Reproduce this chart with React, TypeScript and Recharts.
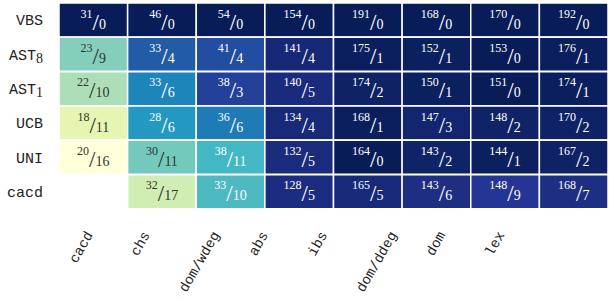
import { BarChart, Bar, XAxis, YAxis, Cell, LabelList } from 'recharts';

// rows (top to bottom) and columns (left to right); "_" marks a subscript
const rows = ['VBS', 'AST_8', 'AST_1', 'UCB', 'UNI', 'cacd'];
const cols = ['cacd', 'chs', 'dom/wdeg', 'abs', 'ibs', 'dom/ddeg', 'dom', 'lex'];

// numerator (upper number) of each cell, null = no cell
const wins: (number | null)[][] = [
    [31, 46, 54, 154, 191, 168, 170, 192],
    [23, 33, 41, 141, 175, 152, 153, 176],
    [22, 33, 38, 140, 174, 150, 151, 174],
    [18, 28, 36, 134, 168, 147, 148, 170],
    [20, 30, 38, 132, 164, 143, 144, 167],
    [null, 32, 33, 128, 165, 143, 148, 168],
];

// denominator (lower number) of each cell
const losses: (number | null)[][] = [
    [0, 0, 0, 0, 0, 0, 0, 0],
    [9, 4, 4, 4, 1, 1, 0, 1],
    [10, 6, 3, 5, 2, 1, 0, 1],
    [11, 6, 6, 4, 1, 3, 2, 2],
    [16, 11, 11, 5, 0, 2, 1, 2],
    [null, 17, 10, 5, 5, 6, 9, 7],
];

const labelTicks = [0.5, 1.5, 2.5, 3.5, 4.5, 5.5, 6.5, 7.5];

const YLGNBU = ['#ffffd9', '#edf8b1', '#c7e9b4', '#7fcdbb', '#41b6c4', '#1d91c0', '#225ea8', '#253494', '#081d58'];

const SERIF = "'Liberation Serif', 'DejaVu Serif', serif";
const MONO = "'Liberation Mono', 'DejaVu Sans Mono', monospace";

const hexToRgb = (h: string) => [1, 3, 5].map((i) => parseInt(h.slice(i, i + 2), 16));

function colormap(t: number) {
    const v = Math.max(0, Math.min(1, t)) * (YLGNBU.length - 1);
    const i = Math.min(Math.floor(v), YLGNBU.length - 2);
    const f = v - i;
    const a = hexToRgb(YLGNBU[i]);
    const b = hexToRgb(YLGNBU[i + 1]);
    const c = a.map((x, k) => Math.round(x + (b[k] - x) * f));
    return `rgb(${c[0]},${c[1]},${c[2]})`;
}

const ratio = (r: number, c: number) => {
    const w = wins[r][c];
    const l = losses[r][c];
    if (w == null || l == null) return null;
    return w / (w + l);
};

const allRatios = rows.flatMap((_, r) => cols.map((_, c) => ratio(r, c))).filter((v) => v != null) as number[];
const vmin = Math.min(...allRatios);
const vmax = Math.max(...allRatios);
const norm = (v: number) => (v - vmin) / (vmax - vmin);

const data = rows.map((row) => {
    const d: any = { row };
    cols.forEach((_, c) => {
        d['c' + c] = 1;
    });
    return d;
});

const RowTick = ({ x, y, payload }: any) => {
    const [main, sub] = String(payload.value).split('_');
    return (
        <text x={x - 8} y={y} dy={5} textAnchor="end" style={{ fontFamily: MONO, fontSize: 15 }} fill="#222">
            {main}
            {sub && (
                <tspan style={{ fontFamily: SERIF, fontSize: 14 }} dy={3}>
                    {sub}
                </tspan>
            )}
        </text>
    );
};

const ColTick = ({ x, y, payload }: any) => {
    const name = cols[Math.floor(payload.value)];
    const fs = 14;
    const len = name.length * 0.6 * fs;
    const h = fs * 0.8;
    const cy = y - 17 + (len * Math.sin(Math.PI / 3) + h * Math.cos(Math.PI / 3)) / 2;
    return (
        <text
            x={x}
            y={cy}
            transform={`rotate(-60, ${x}, ${cy})`}
            textAnchor="middle"
            dominantBaseline="central"
            style={{ fontFamily: MONO, fontSize: fs }}
            fill="#222"
        >
            {name}
        </text>
    );
};

const fraction = (c: number) => (props: any) => {
    const { x, y, width, height, index } = props;
    const w = wins[index][c];
    const l = losses[index][c];
    if (w == null || l == null) return null;
    const t = norm(ratio(index, c) as number);
    const cx = x + width / 2;
    const cy = y + height / 2;
    return (
        <text x={cx} y={cy} textAnchor="middle" style={{ fontFamily: SERIF }} fill={t > 0.45 ? '#fff' : '#333'}>
            <tspan style={{ fontSize: 12 }} dy={-2.5}>{w}</tspan>
            <tspan style={{ fontSize: 23 }} dy={12}>/</tspan>
            <tspan style={{ fontSize: 14 }} dy={-1}>{l}</tspan>
        </text>
    );
};

export default function App() {
    return (
        <div style={{ position: 'absolute', left: 0, top: 0 }}>
            <BarChart
                width={609}
                height={301}
                data={data}
                layout="vertical"
                barCategoryGap={0}
                barGap={0}
                margin={{ top: 3, right: 1, bottom: 0, left: 0 }}
            >
                <XAxis type="number" domain={[0, 8]} hide />
                <XAxis
                    xAxisId="lbl"
                    type="number"
                    domain={[0.12, 9.41]}
                    allowDataOverflow
                    ticks={labelTicks}
                    interval={0}
                    height={92}
                    tickLine={false}
                    axisLine={false}
                    tick={<ColTick />}
                />
                <YAxis
                    type="category"
                    dataKey="row"
                    width={59}
                    tickLine={false}
                    axisLine={false}
                    interval={0}
                    tick={<RowTick />}
                />
                {cols.map((col, c) => (
                    <Bar key={col} dataKey={'c' + c} stackId="grid" isAnimationActive={false}>
                        {rows.map((row, r) => {
                            const v = ratio(r, c);
                            return (
                                <Cell
                                    key={row}
                                    fill={v == null ? '#fff' : colormap(norm(v))}
                                    stroke="#fff"
                                    strokeWidth={1.5}
                                />
                            );
                        })}
                        <LabelList content={fraction(c)} />
                    </Bar>
                ))}
            </BarChart>
        </div>
    );
}
